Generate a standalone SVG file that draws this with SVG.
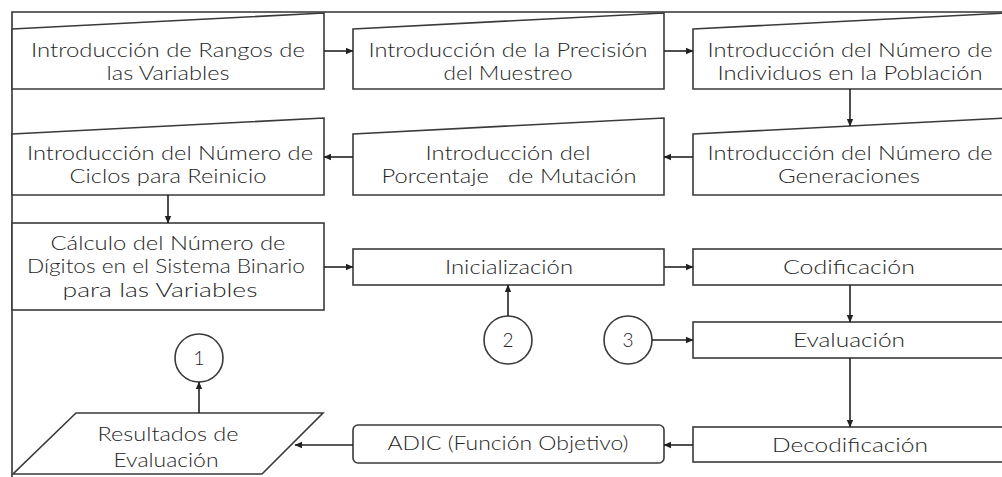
<svg xmlns="http://www.w3.org/2000/svg" width="1002" height="477" viewBox="0 0 1002 477">
<style>
.box{fill:#fff;stroke:#3a3a3a;stroke-width:1.6}
.frame{fill:none;stroke:#333;stroke-width:1.6}
.c{fill:none;stroke:#222;stroke-width:1.6}
text{font-family:"Lato","Liberation Sans",Arial,sans-serif;font-weight:300;font-size:19px;fill:#262626;text-anchor:middle}
</style>
<defs>
<marker id="ah" markerWidth="8" markerHeight="8" refX="7" refY="4" orient="auto" markerUnits="userSpaceOnUse">
<path d="M0,0.8 L7.5,4 L0,7.2 Z" fill="#222"/>
</marker>
</defs>
<rect width="1002" height="477" fill="#fff"/>
<g id="frame">
<path class="frame" d="M12,477 L12,12 L1002,12"/>
</g>
<g id="n1">
<path class="box" d="M12,29 L324,13 L324,89 L12,89 Z"/>
<text x="168" y="57" textLength="274" lengthAdjust="spacingAndGlyphs">Introducción de Rangos de</text>
<text x="168" y="80" textLength="123" lengthAdjust="spacingAndGlyphs">las Variables</text>
</g>
<g id="n2">
<path class="box" d="M353,29 L664,13 L664,89 L353,89 Z"/>
<text x="508" y="57" textLength="279" lengthAdjust="spacingAndGlyphs">Introducción de la Precisión</text>
<text x="508" y="80" textLength="129" lengthAdjust="spacingAndGlyphs">del Muestreo</text>
</g>
<g id="n3">
<path class="box" d="M693,29 L1008,13 L1008,89 L693,89 Z"/>
<text x="850" y="57" textLength="285" lengthAdjust="spacingAndGlyphs">Introducción del Número de</text>
<text x="850" y="80" textLength="265" lengthAdjust="spacingAndGlyphs">Individuos en la Población</text>
</g>
<g id="n4">
<path class="box" d="M693,134 L1008,118 L1008,195 L693,195 Z"/>
<text x="850" y="160" textLength="285" lengthAdjust="spacingAndGlyphs">Introducción del Número de</text>
<text x="849" y="183" textLength="142" lengthAdjust="spacingAndGlyphs">Generaciones</text>
</g>
<g id="n5">
<path class="box" d="M353,134 L664,118 L664,195 L353,195 Z"/>
<text x="508" y="160" textLength="165" lengthAdjust="spacingAndGlyphs">Introducción del</text>
<text x="509" y="183" textLength="255" lengthAdjust="spacingAndGlyphs" xml:space="preserve">Porcentaje   de Mutación</text>
</g>
<g id="n6">
<path class="box" d="M12,134 L324,118 L324,195 L12,195 Z"/>
<text x="170" y="160" textLength="286" lengthAdjust="spacingAndGlyphs">Introducción del Número de</text>
<text x="168" y="183" textLength="197" lengthAdjust="spacingAndGlyphs">Ciclos para Reinicio</text>
</g>
<g id="n7">
<rect class="box" x="12" y="223" width="312" height="87"/>
<text x="168" y="250" textLength="235" lengthAdjust="spacingAndGlyphs">Cálculo del Número de</text>
<text x="166" y="273" textLength="278" lengthAdjust="spacingAndGlyphs">Dígitos en el Sistema Binario</text>
<text x="160" y="297" textLength="195" lengthAdjust="spacingAndGlyphs">para las Variables</text>
</g>
<g id="n8">
<rect class="box" x="353" y="249" width="311" height="36"/>
<text x="509" y="274" textLength="128" lengthAdjust="spacingAndGlyphs">Inicialización</text>
</g>
<g id="n9">
<rect class="box" x="693" y="249" width="315" height="36"/>
<text x="849" y="274" textLength="132" lengthAdjust="spacingAndGlyphs">Codificación</text>
</g>
<g id="n10">
<rect class="box" x="693" y="322" width="315" height="36"/>
<text x="849" y="347" textLength="112" lengthAdjust="spacingAndGlyphs">Evaluación</text>
</g>
<g id="n11">
<rect class="box" x="693" y="427" width="315" height="35"/>
<text x="850" y="452" textLength="156" lengthAdjust="spacingAndGlyphs">Decodificación</text>
</g>
<g id="n12">
<rect class="box" x="353" y="425" width="311" height="38" rx="5" ry="5"/>
<text x="508" y="450" textLength="241" lengthAdjust="spacingAndGlyphs">ADIC (Función Objetivo)</text>
</g>
<g id="n13">
<path class="box" d="M76,413 L323,413 L262,474 L13,474 Z"/>
<text x="168" y="441" textLength="141" lengthAdjust="spacingAndGlyphs">Resultados de</text>
<text x="166" y="467" textLength="105" lengthAdjust="spacingAndGlyphs">Evaluación</text>
</g>
<g id="c1">
<circle class="box" cx="199" cy="358" r="24"/>
<text x="199" y="365">1</text>
</g>
<g id="c2">
<circle class="box" cx="508" cy="340" r="24"/>
<text x="508" y="347">2</text>
</g>
<g id="c3">
<circle class="box" cx="628" cy="340" r="24"/>
<text x="628" y="347">3</text>
</g>
<g id="connectors">
<line class="c" x1="324" y1="51" x2="353" y2="51" marker-end="url(#ah)"/>
<line class="c" x1="664" y1="51" x2="693" y2="51" marker-end="url(#ah)"/>
<line class="c" x1="850" y1="89" x2="850" y2="126" marker-end="url(#ah)"/>
<line class="c" x1="693" y1="157" x2="664" y2="157" marker-end="url(#ah)"/>
<line class="c" x1="353" y1="157" x2="324" y2="157" marker-end="url(#ah)"/>
<line class="c" x1="168" y1="195" x2="168" y2="223" marker-end="url(#ah)"/>
<line class="c" x1="324" y1="267" x2="353" y2="267" marker-end="url(#ah)"/>
<line class="c" x1="664" y1="267" x2="693" y2="267" marker-end="url(#ah)"/>
<line class="c" x1="850" y1="285" x2="850" y2="322" marker-end="url(#ah)"/>
<line class="c" x1="508" y1="316" x2="508" y2="285" marker-end="url(#ah)"/>
<line class="c" x1="652" y1="340" x2="693" y2="340" marker-end="url(#ah)"/>
<line class="c" x1="850" y1="358" x2="850" y2="427" marker-end="url(#ah)"/>
<line class="c" x1="693" y1="445" x2="664" y2="445" marker-end="url(#ah)"/>
<line class="c" x1="353" y1="445" x2="295" y2="445" marker-end="url(#ah)"/>
<line class="c" x1="199" y1="413" x2="199" y2="382" marker-end="url(#ah)"/>
</g>
</svg>
